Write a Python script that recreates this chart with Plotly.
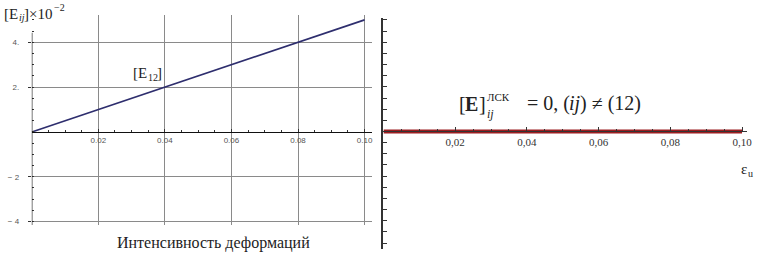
import plotly.graph_objects as go

# ---- data ----
eps = [0.0, 0.02, 0.04, 0.06, 0.08, 0.10]          # strain intensity
E12 = [0.0, 1.0, 2.0, 3.0, 4.0, 5.0]               # [E12] x 10^-2
E_other = [0.0, 0.0, 0.0, 0.0, 0.0, 0.0]           # [E]_ij, (ij) != (12)

left_xticks = [0.02, 0.04, 0.06, 0.08, 0.10]
left_xlabels = ["0.02", "0.04", "0.06", "0.08", "0.10"]
left_yticks = [-4, -2, 2, 4]
left_ylabels = ["− 4", "− 2", "2.", "4."]
right_xticks = [0.02, 0.04, 0.06, 0.08, 0.10]
right_xlabels = ["0,02", "0,04", "0,06", "0,08", "0,10"]

W, H = 762, 258
def px(x):
    return x / W
def py(y):
    return 1 - y / H

SERIF = "Liberation Serif, Times New Roman, serif"
SANS = "Liberation Sans, Arial, sans-serif"

fig = go.Figure()
fig.add_trace(go.Scatter(x=eps, y=E12, mode="lines",
                         line=dict(color="#2e2e6e", width=1.6),
                         xaxis="x", yaxis="y", showlegend=False, hoverinfo="skip"))
fig.add_trace(go.Scatter(x=eps, y=E_other, mode="lines",
                         line=dict(color="#9b1d20", width=4),
                         xaxis="x2", yaxis="y2", showlegend=False, hoverinfo="skip"))

grid = "#8a8a8a"
fig.update_layout(
    width=W, height=H, margin=dict(l=0, r=0, t=0, b=0),
    paper_bgcolor="white", plot_bgcolor="white",
    font=dict(family=SERIF, size=12, color="#222"),
    xaxis=dict(domain=[px(32), px(374)], range=[0, 0.1021], anchor="free",
               position=py(132.5),
               tickmode="array", tickvals=left_xticks, ticktext=left_xlabels,
               tickfont=dict(family=SANS, size=8, color="#555"),
               ticks="inside", ticklen=3, tickcolor="#333",
               minor=dict(dtick=0.005, tick0=0, ticks="inside", ticklen=2,
                          tickcolor="#333", showgrid=False),
               showgrid=True, gridcolor=grid, gridwidth=1,
               showline=True, linecolor="#111", linewidth=1, zeroline=False),
    yaxis=dict(domain=[py(226), py(15)], range=[-4.16, 5.22], anchor="x",
               tickmode="array", tickvals=left_yticks, ticktext=left_ylabels,
               tickfont=dict(family=SANS, size=8, color="#555"),
               ticks="outside", ticklen=3, tickcolor="#333", ticklabelstandoff=7,
               minor=dict(dtick=0.5, tick0=0, ticks="inside", ticklen=2,
                          tickcolor="#333", showgrid=False),
               showgrid=True, gridcolor=grid, gridwidth=1,
               showline=False, zeroline=False),
    xaxis2=dict(domain=[px(386), px(752)], range=[0, 0.1014], anchor="free",
                position=py(132),
                tickmode="array", tickvals=right_xticks, ticktext=right_xlabels,
                tickfont=dict(family=SERIF, size=11, color="#333"),
                ticks="inside", ticklen=4, tickcolor="#333",
                minor=dict(dtick=0.005, tick0=0, ticks="inside", ticklen=2,
                           tickcolor="#333", showgrid=False),
                showgrid=False, showline=True, linecolor="#333", linewidth=1,
                zeroline=False),
    yaxis2=dict(domain=[py(250), py(18)], range=[-10.54, 10.18], anchor="x2",
                dtick=1, tick0=0, showticklabels=False,
                ticks="inside", ticklen=4, tickcolor="#333",
                showgrid=False, showline=True, linecolor="#333", linewidth=1.5,
                zeroline=False),
)

# left y axis line (shorter than grid lines at top)
fig.add_shape(type="line", xref="x", yref="y", x0=0, x1=0, y0=-4.16, y1=4.42,
              line=dict(color="#111", width=1.2))

def ann(text, x, y, size, xanchor="left", style="normal", weight="normal", color="#222"):
    fig.add_annotation(text=text, x=px(x), y=py(y), xref="paper", yref="paper",
                       xanchor=xanchor, yanchor="middle", showarrow=False, borderpad=0,
                       font=dict(family=SERIF, size=size, color=color,
                                 style=style, weight=weight))

# top-left axis title  [E_ij]×10^-2
ann("[E", 3, 14, 15)
ann("ij", 18, 18, 10, style="italic")
ann("]×10", 23, 14, 15)
ann("−2", 53, 8, 10)

# [E12] label
ann("[E", 133, 73, 15)
ann("12", 147.5, 77.5, 10)
ann("]", 157.5, 73, 15)

ann("Интенсивность деформаций", 215, 243.5, 16, xanchor="center")

# [E]_ij^ЛСК = 0, (ij) ≠ (12)
ann("[", 461, 104, 20)
ann("E", 467.5, 104, 20, weight="bold")
ann("]", 481, 104, 20)
ann("ЛСК", 489, 97.5, 11)
ann("ij", 489, 114.5, 12, style="italic")
ann("= 0, (", 529, 104, 20)
ann("ij", 572, 104, 20, style="italic")
ann(") ≠ (12)", 583, 104, 20)

# ε_u
ann("ε", 745, 170, 15)
ann("u", 752, 174, 10)

fig.write_html("out.html", config={"displayModeBar": False},
               post_script="document.body.style.margin='0';document.body.style.overflow='hidden';")
